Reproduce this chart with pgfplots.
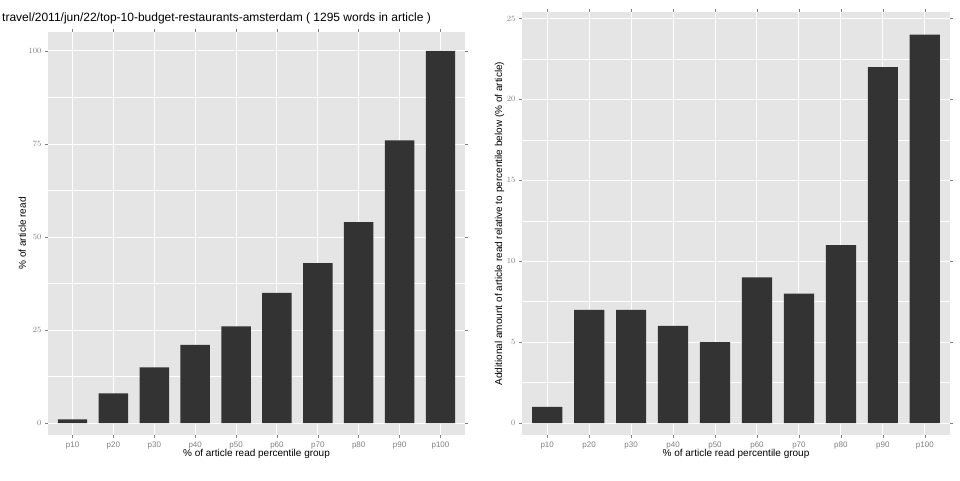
\documentclass[border=0pt]{standalone}
\usepackage{pgfplots}
\pgfplotsset{compat=1.18}
\usepackage{fontspec}
\setmainfont{Liberation Sans}
\definecolor{bg}{HTML}{E5E5E5}
\definecolor{bar}{HTML}{333333}
\definecolor{tk}{HTML}{7F7F7F}
\pgfplotsset{gg/.style={
  scale only axis, anchor=south west,
  axis background/.style={fill=bg},
  axis line style={draw=none},
  xmin=-0.6, xmax=9.6,
  xtick={0,...,9},
  xticklabels={p10,p20,p30,p40,p50,p60,p70,p80,p90,p100},
  grid=both,
  major grid style={white, line width=1pt},
  minor grid style={white, line width=0.4pt},
  minor x tick num=0,
  tick align=outside, major tick length=3pt, minor tick length=0pt,
  tick style={tk, line width=0.5pt},
  ticklabel style={font=\fontsize{8}{9}\selectfont, text=tk},
  label style={font=\fontsize{10}{11}\selectfont},
  xlabel={\% of article read percentile group},
  xlabel style={yshift=6pt},
  ylabel style={yshift=-4pt},
  ybar, bar width=0.72,
  enlarge y limits=false,
}}
\begin{document}
\begin{tikzpicture}[x=1pt,y=1pt]
\useasboundingbox (0,0) rectangle (960,480);
\begin{axis}[gg, at={(48pt,45pt)}, width=417pt, height=403pt,
  ymin=-3.2, ymax=105.1, ytick={0,25,50,75,100}, minor y tick num=1,
  ylabel={\% of article read}]
\addplot[fill=bar, draw=none] coordinates {(0,1)(1,8)(2,15)(3,21)(4,26)(5,35)(6,43)(7,54)(8,76)(9,100)};
\end{axis}
\begin{axis}[gg, at={(522pt,45pt)}, width=428pt, height=423pt,
  ymin=-0.74, ymax=25.4, ytick={0,5,10,15,20,25}, minor y tick num=1,
  ylabel={Additional amount of article read relative to percentile below (\% of article)}]
\addplot[fill=bar, draw=none] coordinates {(0,1)(1,7)(2,7)(3,6)(4,5)(5,9)(6,8)(7,11)(8,22)(9,24)};
\end{axis}
\begin{scope}
\clip (0,448) rectangle (478,480);
\node[anchor=west, inner sep=0pt, font=\fontsize{12}{13}\selectfont] at (2,462) {travel/2011/jun/22/top-10-budget-restaurants-amsterdam ( 1295 words in article )};
\end{scope}
\end{tikzpicture}
\end{document}
